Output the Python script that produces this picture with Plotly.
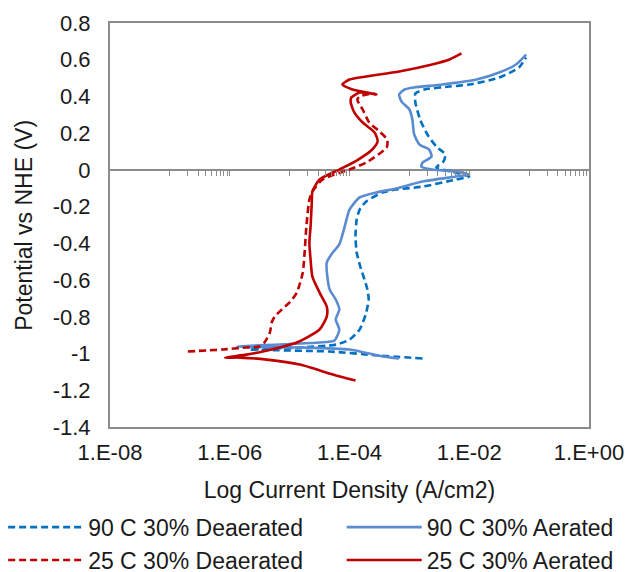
import plotly.graph_objects as go

# ---- data (log10 current density, potential V vs NHE) ----
red_aer_logI = [-3.90, -4.28, -4.83, -5.38, -5.83, -6.08, -5.72, -5.45, -4.88, -4.50, -4.38, -4.38,
                -4.50, -4.62, -4.65, -4.67, -4.65, -4.63, -4.62, -4.50, -4.17, -3.88, -3.62, -3.53,
                -3.58, -3.78, -3.92, -3.98, -3.97, -3.83, -3.55, -3.95, -4.12, -4.00, -3.72, -3.17,
                -2.62, -2.33, -2.13]
red_aer_E = [-1.147, -1.114, -1.060, -1.033, -1.022, -1.022, -1.006, -0.989, -0.940, -0.869, -0.799, -0.744,
             -0.668, -0.581, -0.488, -0.396, -0.308, -0.178, -0.118, -0.052, 0.002, 0.051, 0.111, 0.155,
             0.204, 0.258, 0.313, 0.367, 0.394, 0.421, 0.411, 0.438, 0.465, 0.492, 0.509, 0.536,
             0.574, 0.601, 0.634]

red_dea_logI = [-6.70, -6.12, -5.72, -5.50, -5.42, -5.33, -5.30, -5.25, -5.13, -5.00, -4.88, -4.78,
                -4.75, -4.72, -4.67, -4.62, -4.45, -4.00, -3.72, -3.38, -3.37, -3.50, -3.67, -3.78,
                -3.87, -3.83, -3.62, -3.55]
red_dea_E = [-0.989, -0.978, -0.967, -0.962, -0.940, -0.886, -0.831, -0.799, -0.760, -0.722, -0.668, -0.559,
             -0.450, -0.308, -0.161, -0.118, -0.052, 0.002, 0.040, 0.122, 0.165, 0.209, 0.258, 0.329,
             0.383, 0.400, 0.416, 0.411]

blue_aer_logI = [-3.17, -3.45, -4.00, -4.83, -5.88, -5.17, -4.50, -4.25, -4.17, -4.23, -4.17, -4.23,
                 -4.33, -4.37, -4.38, -4.28, -4.17, -4.08, -4.00, -3.83, -3.55, -3.22, -2.78, -2.22,
                 -2.00, -2.22, -2.62, -2.80, -2.78, -2.63, -2.67, -2.83, -2.92, -2.95, -3.00, -3.13,
                 -3.17, -3.08, -2.92, -2.45, -1.88, -1.50, -1.22, -1.05]
blue_aer_E = [-1.027, -1.016, -0.978, -0.967, -0.962, -0.951, -0.940, -0.929, -0.869, -0.815, -0.760, -0.706,
              -0.652, -0.581, -0.504, -0.450, -0.406, -0.308, -0.216, -0.150, -0.123, -0.101, -0.063, -0.036,
              -0.025, -0.009, 0.002, 0.018, 0.040, 0.073, 0.111, 0.138, 0.193, 0.274, 0.329, 0.372,
              0.411, 0.438, 0.449, 0.465, 0.492, 0.530, 0.574, 0.628]

blue_dea_logI = [-2.78, -3.50, -4.33, -5.67, -4.83, -4.22, -4.00, -3.83, -3.73, -3.68, -3.70, -3.75,
                 -3.82, -3.88, -3.90, -3.88, -3.83, -3.72, -3.45, -3.22, -2.78, -2.22, -2.00, -2.30,
                 -2.55, -2.43, -2.40, -2.55, -2.70, -2.82, -2.90, -2.90, -2.75, -2.33, -2.00, -1.50,
                 -1.17, -1.05]
blue_dea_E = [-1.027, -1.011, -0.989, -0.978, -0.967, -0.951, -0.924, -0.869, -0.788, -0.706, -0.652, -0.597,
              -0.526, -0.450, -0.363, -0.270, -0.216, -0.172, -0.123, -0.107, -0.091, -0.052, -0.036, -0.009,
              0.013, 0.046, 0.084, 0.127, 0.193, 0.274, 0.367, 0.416, 0.438, 0.454, 0.465, 0.503,
              0.558, 0.612]

x_tickvals = [1e-8, 1e-6, 1e-4, 1e-2, 1e0]
x_ticktext = ["1.E-08", "1.E-06", "1.E-04", "1.E-02", "1.E+00"]
y_tickvals = [0.8, 0.6, 0.4, 0.2, 0, -0.2, -0.4, -0.6, -0.8, -1, -1.2, -1.4]
y_ticktext = ["0.8", "0.6", "0.4", "0.2", "0", "-0.2", "-0.4", "-0.6", "-0.8", "-1", "-1.2", "-1.4"]
minor_decades = [-7, -5, -3, -1]
minor_ticks = [k * 10.0 ** n for n in minor_decades for k in range(1, 11)]
x_title = "Log Current Density (A/cm2)"
y_title = "Potential vs NHE (V)"

RED = "#c00000"
BLUE_D = "#0070c0"
BLUE_A = "#5b8bd0"
GRAY = "#8c8c8c"
FONT = "Liberation Sans, Arial, sans-serif"
DASH = "7px,4px"

def pw(v):
    return [10.0 ** a for a in v]

fig = go.Figure()
lw = 2.6
fig.add_trace(go.Scatter(x=pw(blue_dea_logI), y=blue_dea_E, mode="lines", name="90 C 30% Deaerated",
                         legend="legend",
                         line=dict(color=BLUE_D, width=lw, dash=DASH, shape="spline", smoothing=0.6)))
fig.add_trace(go.Scatter(x=pw(blue_aer_logI), y=blue_aer_E, mode="lines", name="90 C 30% Aerated",
                         legend="legend2",
                         line=dict(color=BLUE_A, width=lw, shape="spline", smoothing=0.6)))
fig.add_trace(go.Scatter(x=pw(red_dea_logI), y=red_dea_E, mode="lines", name="25 C 30% Deaerated",
                         legend="legend",
                         line=dict(color=RED, width=lw, dash=DASH, shape="spline", smoothing=0.6)))
fig.add_trace(go.Scatter(x=pw(red_aer_logI), y=red_aer_E, mode="lines", name="25 C 30% Aerated",
                         legend="legend2",
                         line=dict(color=RED, width=lw, shape="spline", smoothing=0.6)))
# invisible carrier for the minor-tick axis at y = 0
fig.add_trace(go.Scatter(x=minor_ticks, y=[0] * len(minor_ticks), xaxis="x2", mode="markers",
                         marker=dict(opacity=0), showlegend=False, hoverinfo="skip"))

leg_common = dict(orientation="v", xref="container", yref="container", y=0.116,
                  xanchor="left", yanchor="top", itemwidth=75, font=dict(size=23),
                  tracegroupgap=0, traceorder="normal", bgcolor="rgba(0,0,0,0)")

fig.update_layout(
    width=627, height=572,
    margin=dict(l=110, r=38, t=23, b=145, autoexpand=False),
    paper_bgcolor="white", plot_bgcolor="white",
    font=dict(family=FONT, size=22, color="#1a1a1a"),
    showlegend=True,
    legend=dict(x=0.005, **leg_common),
    legend2=dict(x=0.545, **leg_common),
    xaxis=dict(type="log", range=[-8, 0], tickvals=x_tickvals, ticktext=x_ticktext,
               showline=True, mirror=True, linecolor=GRAY, linewidth=2, showgrid=False,
               zeroline=False, ticks="", ticklabelstandoff=5,
               title=dict(text=x_title, standoff=17, font=dict(size=23)),
               automargin=False),
    xaxis2=dict(type="log", range=[-8, 0], overlaying="x", anchor="free", position=1.4 / 2.2,
                side="bottom", showline=False, showgrid=False, zeroline=False,
                ticks="outside", ticklen=5, tickwidth=1.3, tickcolor=GRAY,
                tickvals=minor_ticks, showticklabels=False),
    yaxis=dict(range=[-1.4, 0.8], tickvals=y_tickvals, ticktext=y_ticktext,
               showline=True, mirror=True, linecolor=GRAY, linewidth=2, showgrid=False,
               zeroline=True, zerolinecolor=GRAY, zerolinewidth=2, ticks="", ticklabelstandoff=13,
               automargin=False),
    annotations=[dict(text=y_title, textangle=-90, xref="paper", yref="paper",
                      x=-0.18, y=0.5, xanchor="center", yanchor="middle", showarrow=False,
                      font=dict(size=23))],
)

fig.write_html("out.html", post_script="document.body.style.margin='0px';",
               config={"displayModeBar": False})
